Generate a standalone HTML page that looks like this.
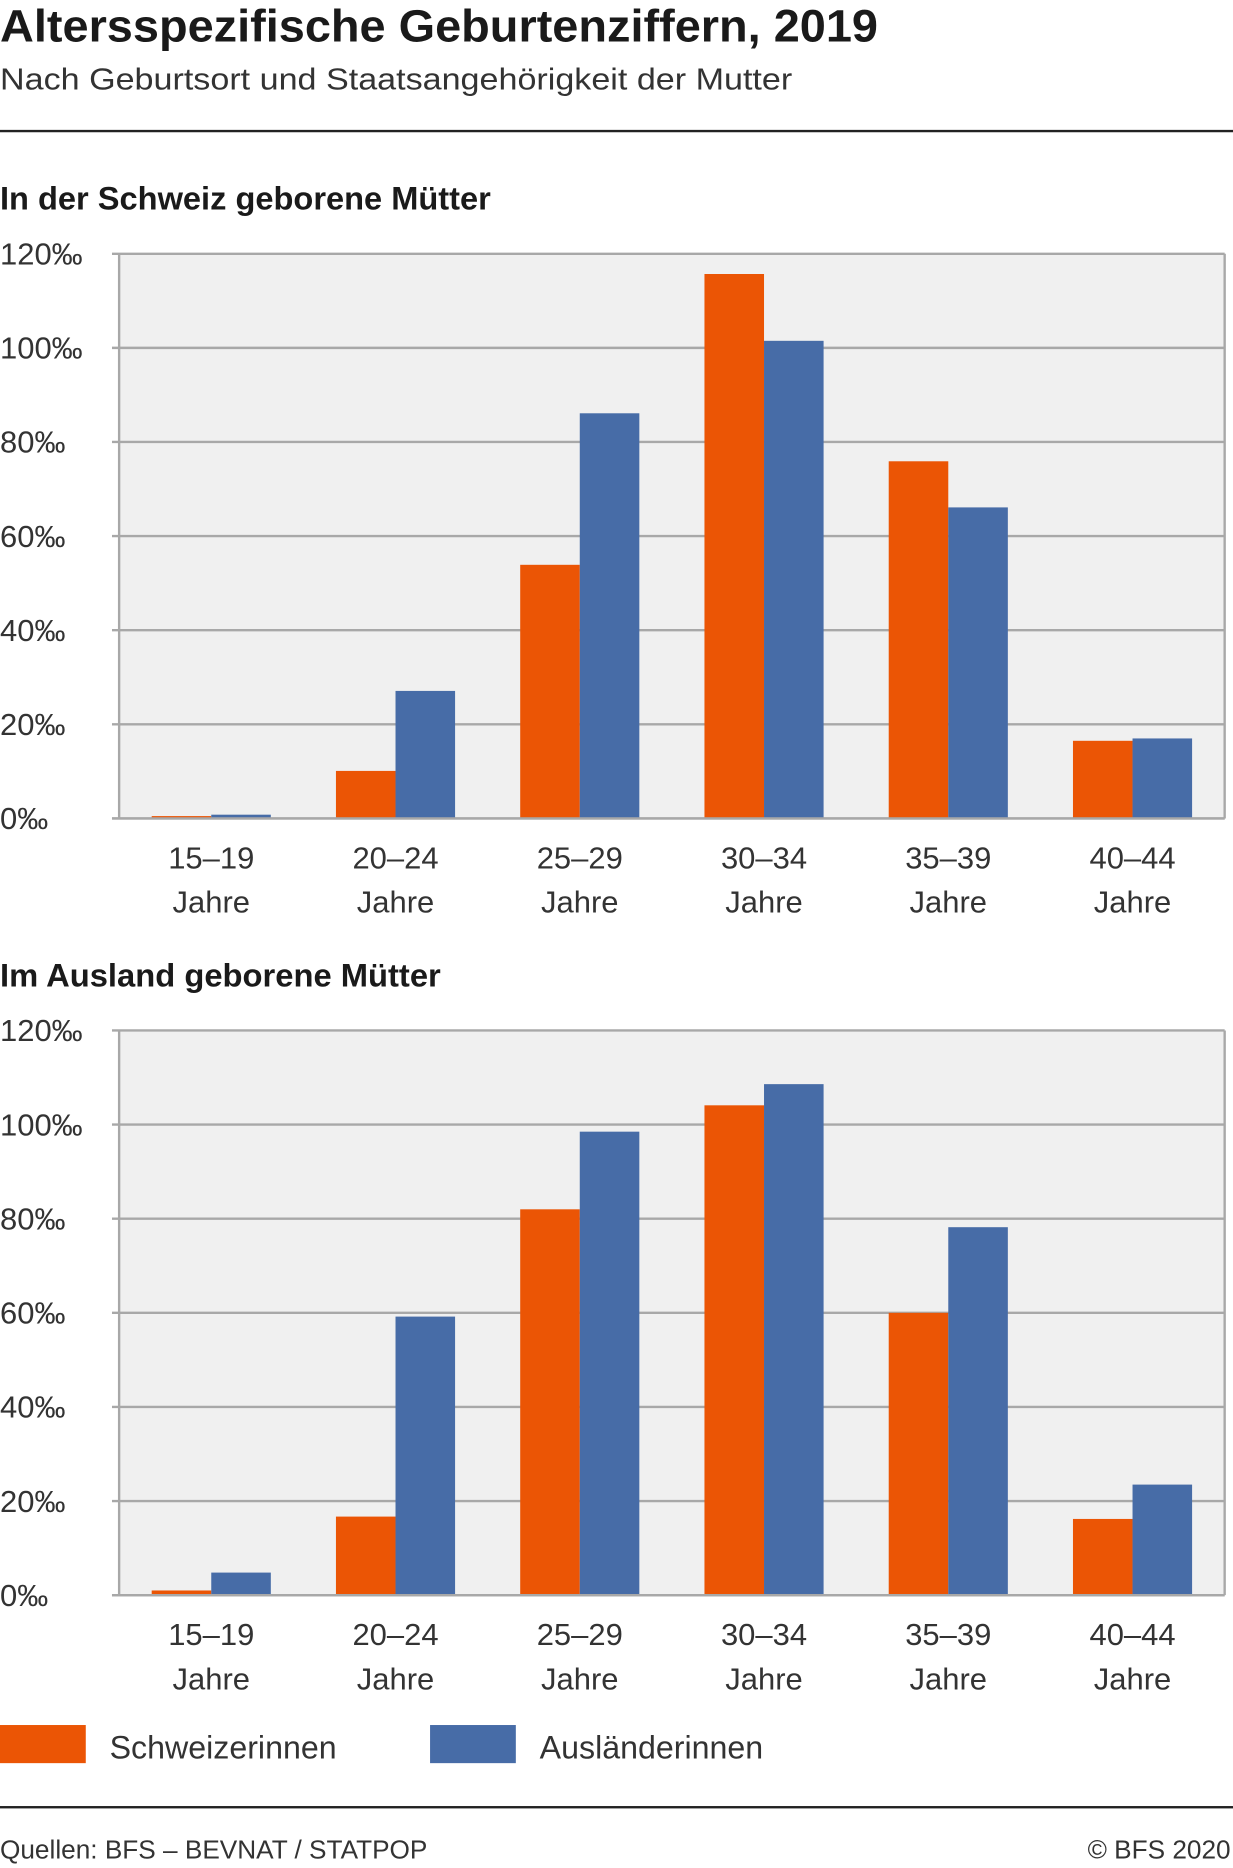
<!DOCTYPE html>
<html><head><meta charset="utf-8"><style>
html,body{margin:0;padding:0;background:#fff;}
svg{display:block;font-family:"Liberation Sans Narrow","Liberation Sans",sans-serif;}
</style></head><body>
<svg id="root" width="1233" height="1868" viewBox="0 0 1035 1568" xmlns="http://www.w3.org/2000/svg">
<text x="0" y="35" font-size="38" font-weight="bold" fill="#1a1a1a" textLength="737" lengthAdjust="spacingAndGlyphs">Altersspezifische Geburtenziffern, 2019</text>
<text x="0" y="75" font-size="26" fill="#333" textLength="665" lengthAdjust="spacingAndGlyphs">Nach Geburtsort und Staatsangehörigkeit der Mutter</text>
<rect x="0" y="109" width="1035" height="2" fill="#222"/>
<text x="0" y="176" font-size="27" font-weight="bold" fill="#1a1a1a" textLength="412" lengthAdjust="spacingAndGlyphs">In der Schweiz geborene Mütter</text>
<text x="0" y="828" font-size="27" font-weight="bold" fill="#1a1a1a" textLength="370" lengthAdjust="spacingAndGlyphs">Im Ausland geborene Mütter</text>
<g id="p1"></g>
<g id="p2"></g>
<rect x="0" y="1448" width="72" height="32" fill="#eb5505"/>
<text x="92" y="1476" font-size="27" fill="#333">Schweizerinnen</text>
<rect x="361" y="1448" width="72" height="32" fill="#476ca7"/>
<text x="453" y="1476" font-size="27" fill="#333">Ausländerinnen</text>
<rect x="0" y="1516" width="1035" height="2" fill="#222"/>
<text x="0" y="1560" font-size="22" fill="#333">Quellen: BFS – BEVNAT / STATPOP</text>
<text x="1033" y="1560" font-size="22" fill="#333" text-anchor="end">© BFS 2020</text>
</svg>
<script>
const categories = ["15–19", "20–24", "25–29", "30–34", "35–39", "40–44"];
const panel1Swiss = [0.5, 10.1, 53.9, 115.7, 75.9, 16.5];
const panel1Foreign = [0.8, 27.1, 86.1, 101.5, 66.1, 17.0];
const panel2Swiss = [1.0, 16.7, 82.0, 104.1, 60.0, 16.2];
const panel2Foreign = [4.8, 59.2, 98.5, 108.6, 78.2, 23.5];
const yTicks = [0, 20, 40, 60, 80, 100, 120];
const yTickLabels = ["0‰", "20‰", "40‰", "60‰", "80‰", "100‰", "120‰"];

const NS = "http://www.w3.org/2000/svg";
function mk(tag, attrs, parent){const e=document.createElementNS(NS,tag);for(const k in attrs)e.setAttribute(k,attrs[k]);parent.appendChild(e);return e;}

function drawPanel(gid, top, swiss, foreign, pfx){
  const g=document.getElementById(gid);
  const L=100,R=1028,B=top+474,yMax=120;
  const y=v=>B-(v/yMax)*(B-top);
  const bw=(R-L)/categories.length;
  const x=i=>L+bw*i+bw/2;
  const bg=mk("rect",{x:L,y:top,width:R-L,height:B-top,fill:"#f0f0f0"},g);
  
  
  yTicks.forEach((t,i)=>{
    const ln=mk("line",{x1:L-6,x2:R,y1:y(t),y2:y(t),stroke:"#a8a8a8","stroke-width":2},g);
    
    
    const tx=mk("text",{x:0,y:y(t)+9,"font-size":26,fill:"#333"},g);
    tx.textContent=yTickLabels[i];
    
    
  });
  const la=mk("line",{x1:L,x2:L,y1:top,y2:B,stroke:"#a8a8a8","stroke-width":2},g);
  
  
  const ra=mk("line",{x1:R,x2:R,y1:top,y2:B,stroke:"#a8a8a8","stroke-width":2},g);
  
  
  categories.forEach((c,i)=>{
    const cx=x(i);
    const b1=mk("rect",{x:cx-50,y:y(swiss[i]),width:50,height:B-y(swiss[i]),fill:"#eb5505"},g);
    
    
    const b2=mk("rect",{x:cx,y:y(foreign[i]),width:50,height:B-y(foreign[i]),fill:"#476ca7"},g);
    
    
    const t1=mk("text",{x:cx,y:B+42,"font-size":26,fill:"#333","text-anchor":"middle"},g);
    t1.textContent=c;
    
    
    const t2=mk("text",{x:cx,y:B+79,"font-size":26,fill:"#333","text-anchor":"middle"},g);
    t2.textContent="Jahre";
    
    
  });
  const base=mk("line",{x1:L-6,x2:R,y1:B,y2:B,stroke:"#a8a8a8","stroke-width":2},g);
  
  
}
drawPanel("p1",213,panel1Swiss,panel1Foreign,"panel1");
drawPanel("p2",865,panel2Swiss,panel2Foreign,"panel2");
</script>
</body></html>
